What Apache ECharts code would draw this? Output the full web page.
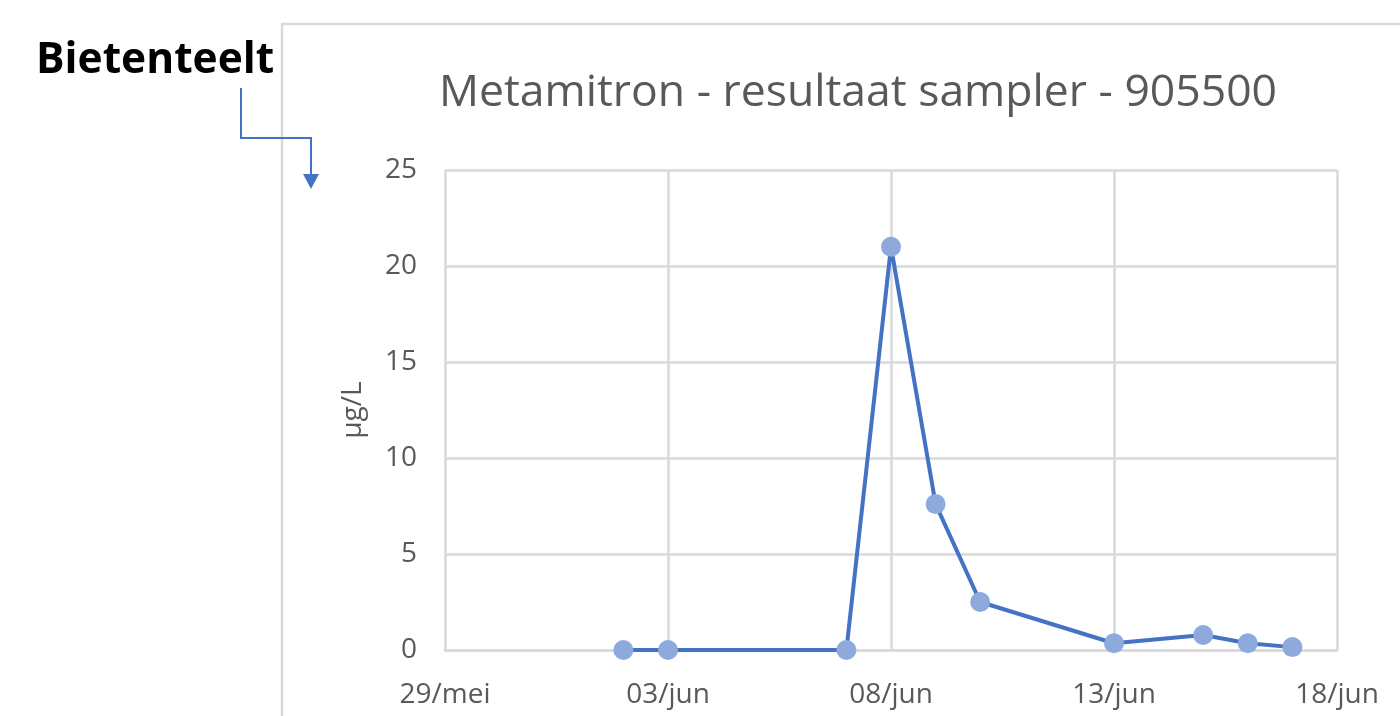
<!DOCTYPE html>
<html>
<head>
<meta charset="utf-8">
<script src="https://cdn.jsdelivr.net/npm/echarts@6/dist/echarts.min.js"></script>
<style>
html,body{margin:0;padding:0;background:#fff;}
#c{width:1400px;height:716px;}
</style>
</head>
<body>
<div id="c"></div>
<script>
// ---- data ----
const startDate = '2023-05-29';
const sampleDates = ['2023-06-02','2023-06-03','2023-06-07','2023-06-08','2023-06-09','2023-06-10','2023-06-13','2023-06-15','2023-06-16','2023-06-17'];
const concentrations = [0, 0, 0, 21, 7.6, 2.5, 0.35, 0.78, 0.35, 0.15];
const xTickLabels = ['29/mei','03/jun','08/jun','13/jun','18/jun'];
const chartTitle = 'Metamitron - resultaat sampler - 905500';
const yAxisName = 'µg/L';
const annotation = 'Bietenteelt';

const DAY = 86400000;
const t0 = Date.parse(startDate);
const seriesData = sampleDates.map((d, i) => [(Date.parse(d) - t0) / DAY, concentrations[i]]);

const FONT = '"Open Sans", "Noto Sans", sans-serif';
const GRAY = '#d9d9d9';
const TXT = '#595959';
const BLUE = '#4472c4';

const chart = echarts.init(document.getElementById('c'), null, {renderer: 'canvas'});
chart.setOption({
  backgroundColor: '#fff',
  animation: false,
  title: {
    text: chartTitle,
    left: 853,
    textAlign: 'center',
    top: 66,
    textStyle: {fontFamily: FONT, fontSize: 44.5, fontWeight: 'normal', color: TXT}
  },
  grid: {left: 445, right: 63, top: 170, bottom: 66, containLabel: false},
  xAxis: {
    type: 'value',
    min: 0, max: 20, interval: 5,
    axisLine: {show: true, lineStyle: {color: GRAY, width: 2.5}},
    axisTick: {show: false},
    axisLabel: {
      fontFamily: FONT, fontSize: 28, color: TXT, margin: 31,
      formatter: v => xTickLabels[Math.round(v / 5)] || ''
    },
    splitLine: {show: true, lineStyle: {color: GRAY, width: 2.5}}
  },
  yAxis: {
    type: 'value',
    min: 0, max: 25, interval: 5,
    name: yAxisName,
    nameLocation: 'middle',
    nameGap: 78,
    nameTextStyle: {fontFamily: FONT, fontSize: 28, color: TXT},
    axisLine: {show: false},
    axisTick: {show: false},
    axisLabel: {fontFamily: FONT, fontSize: 28, color: TXT, margin: 28},
    splitLine: {show: true, lineStyle: {color: GRAY, width: 2.5}}
  },
  series: [{
    type: 'line',
    data: seriesData,
    symbol: 'circle',
    symbolSize: 20,
    lineStyle: {color: BLUE, width: 4},
    itemStyle: {color: '#8eaadc'},
    z: 5
  }],
  graphic: [
    {type: 'line', shape: {x1: 281, y1: 24, x2: 1400, y2: 24}, style: {stroke: GRAY, lineWidth: 2.5}},
    {type: 'line', shape: {x1: 282, y1: 24, x2: 282, y2: 716}, style: {stroke: GRAY, lineWidth: 2.5}},
    {type: 'text', left: 36, top: 39, style: {text: annotation, font: 'bold 42.5px ' + FONT, fill: '#000'}},
    {type: 'polyline', shape: {points: [[241, 88], [241, 138], [311, 138], [311, 176]]}, style: {stroke: BLUE, lineWidth: 2, fill: null}},
    {type: 'polygon', shape: {points: [[303, 174], [319, 174], [311, 189]]}, style: {fill: BLUE}}
  ]
});
</script>
</body>
</html>
